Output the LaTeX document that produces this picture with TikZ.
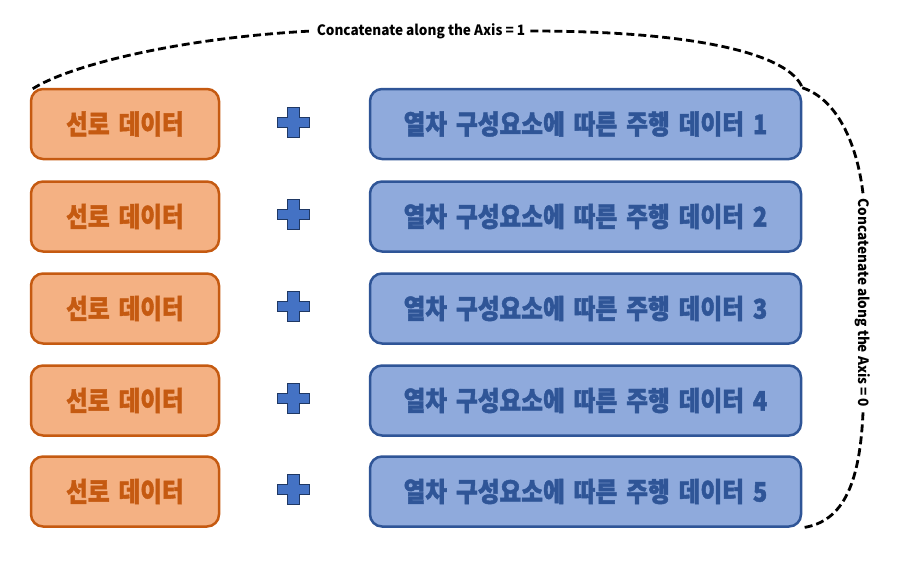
\documentclass[tikz,border=0pt]{standalone}
\usepackage{fontspec}
\newfontfamily\kr[FakeStretch=0.875, BoldFeatures={FakeBold=1.6}]{Noto Sans CJK KR}
\newfontfamily\krl[FakeStretch=0.95]{Noto Sans CJK KR}
\usetikzlibrary{calc}
\definecolor{ocol}{HTML}{C55A11}
\definecolor{ofill}{HTML}{F4B183}
\definecolor{bcol}{HTML}{2F5597}
\definecolor{bfill}{HTML}{8FAADC}
\definecolor{pfill}{HTML}{4472C4}
\definecolor{pline}{HTML}{1F3864}
\newcommand\boxfont{\kr\bfseries\fontsize{27}{27}\selectfont\spaceskip=9pt plus 1pt}
\begin{document}
\begin{tikzpicture}[x=1pt,y=-1pt,
  obox/.style={draw=ocol, fill=ofill, line width=2.5pt, rounded corners=12pt,
    minimum width=188pt, minimum height=70pt, text=ocol, font=\boxfont, inner sep=0pt},
  bbox/.style={draw=bcol, fill=bfill, line width=2.5pt, rounded corners=12pt,
    minimum width=431pt, minimum height=70pt, text=bcol, font=\boxfont, inner sep=0pt},
  plusshape/.style={fill=pfill, draw=pline, line width=0.8pt},
  dashline/.style={draw=black, line width=2.8pt, dash pattern=on 8pt off 4pt},
  lbl/.style={font=\krl\bfseries\fontsize{14.3}{14.3}\selectfont, inner xsep=5pt, inner ysep=2pt}
]
\useasboundingbox (0,0) rectangle (908,562);
\foreach \i/\y in {1/124,2/216.5,3/308.5,4/400.5,5/491.5}{
  \node[obox] (o\i) at (125,\y) {선로 데이터};
  \node[bbox] (b\i) at (585.5,\y) {열차 구성요소에 따른 주행 데이터 \i};
  \coordinate (p\i) at (293,\y-2);
  \draw[plusshape, shift={(p\i)}] (-6,-15) -- (6,-15) -- (6,-5) -- (16,-5) -- (16,5) -- (6,5) -- (6,15) -- (-6,15) -- (-6,5) -- (-16,5) -- (-16,-5) -- (-6,-5) -- cycle;
}
\node[lbl] (t1) at (421,31) {Concatenate along the Axis = 1};
\node[lbl, rotate=-90] (t2) at (863,303) {Concatenate along the Axis = 0};
\draw[dashline] ($(o1.north west)+(3,1)$) .. controls (70,65) and (180,38) .. (t1.west);
\draw[dashline] (t1.east) .. controls (700,31) and (790,55) .. (b1.north east);
\draw[dashline] (b1.north east) .. controls (840,100) and (858,150) .. (t2.west);
\draw[dashline] (t2.east) .. controls (860,480) and (845,522) .. (b5.south east);
\end{tikzpicture}
\end{document}
